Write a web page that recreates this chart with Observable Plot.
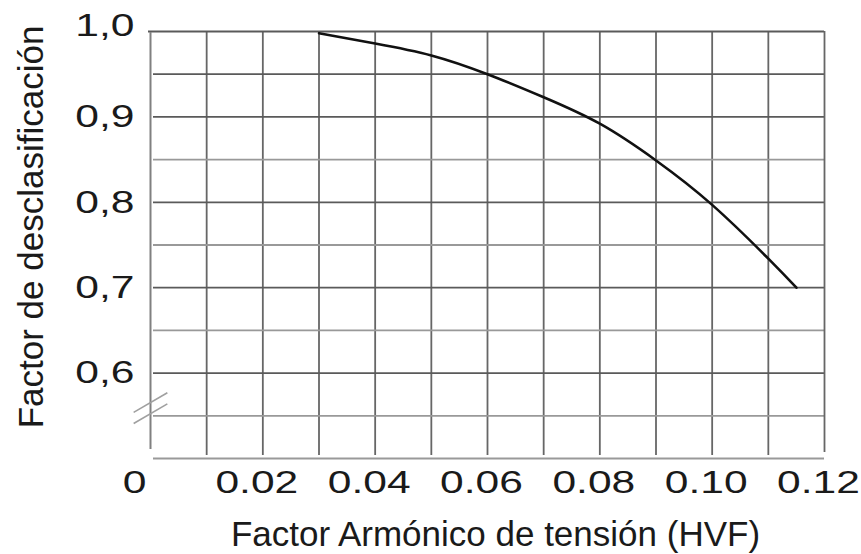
<!DOCTYPE html>
<html><head><meta charset="utf-8">
<script src="https://cdn.jsdelivr.net/npm/d3@7"></script>
<script src="https://cdn.jsdelivr.net/npm/@observablehq/plot@0.6"></script>
<style>body{margin:0;background:#fff} svg{display:block}</style>
</head><body><div id="chart"></div>
<script>
// Curve: derating factor vs harmonic voltage factor (HVF)
const hvf    = [0.03, 0.04, 0.05, 0.06, 0.07, 0.08, 0.09, 0.10, 0.11, 0.115];
const factor = [0.998, 0.986, 0.972, 0.950, 0.923, 0.892, 0.849, 0.797, 0.734, 0.700];

const xTicks = [0, 0.02, 0.04, 0.06, 0.08, 0.10, 0.12];
const xTickLabels = ["0", "0.02", "0.04", "0.06", "0.08", "0.10", "0.12"];
const yTicks = [0.6, 0.7, 0.8, 0.9, 1.0];
const yTickLabels = ["0,6", "0,7", "0,8", "0,9", "1,0"];

const xGrid = [0.01, 0.02, 0.03, 0.04, 0.05, 0.06, 0.07, 0.08, 0.09, 0.10, 0.11];
const yGridDark = [0.6, 0.7, 0.8, 0.9, 0.95];
const yGridLight = [0.5, 0.55, 0.65, 0.75, 0.85];

// axis-break slashes (x1, y1, x2, y2)
const breakX1 = [-0.003, -0.003];
const breakY1 = [0.554, 0.541];
const breakX2 = [0.003, 0.003];
const breakY2 = [0.577, 0.564];

const xTitle = "Factor Armónico de tensión (HVF)";
const yTitle = "Factor de desclasificación";

const points = hvf.map((x, i) => ({x, y: factor[i]}));
const breaks = breakX1.map((_, i) => ({x1: breakX1[i], y1: breakY1[i], x2: breakX2[i], y2: breakY2[i]}));

const xLab = d => xTickLabels[xTicks.indexOf(d)];
const yLab = d => yTickLabels[yTicks.indexOf(d)];
const tickFont = 32;

const svg = Plot.plot({
  width: 861, height: 554,
  marginLeft: 150, marginRight: 37, marginTop: 31, marginBottom: 96,
  x: {domain: [0, 0.12]},
  y: {domain: [0.5, 1.0]},
  style: {fontFamily: "'Liberation Sans', Arial, sans-serif", color: "#1a1a1a", background: "#fff"},
  marks: [
    Plot.ruleX(xGrid, {y1: 0.5, y2: 1.0, stroke: "#666", strokeWidth: 1.8, insetTop: -3}),
    Plot.ruleY(yGridLight, {x1: 0, x2: 0.12, stroke: "#999", strokeWidth: 1.8, insetLeft: 3}),
    Plot.ruleY(yGridDark, {x1: 0, x2: 0.12, stroke: "#5a5a5a", strokeWidth: 1.8, insetLeft: 3}),
    Plot.ruleY([1.0], {x1: 0, x2: 0.12, stroke: "#5a5a5a", strokeWidth: 1.8, insetLeft: -2}),
    Plot.ruleX([0.12], {y1: 0.5, y2: 1.0, stroke: "#666", strokeWidth: 1.8, insetTop: -6}),
    Plot.ruleX([0], {y1: 0.5, y2: 1.0, stroke: "#808080", strokeWidth: 2, insetTop: -9, insetBottom: -1}),
    Plot.link(breaks, {x1: "x1", y1: "y1", x2: "x2", y2: "y2", stroke: "#a0a0a0", strokeWidth: 1.6}),
    Plot.line(points, {x: "x", y: "y", curve: "natural", stroke: "#111", strokeWidth: 2.6}),
    Plot.axisX([0], {tickFormat: xLab, tickSize: 0, tickPadding: 12, fontSize: tickFont, dx: -16, label: null}),
    Plot.axisX(xTicks.slice(1), {tickFormat: xLab, tickSize: 0, tickPadding: 12, fontSize: tickFont, dx: -6, label: null}),
    Plot.axisY(yTicks.slice(0, 4), {tickFormat: yLab, tickSize: 0, tickPadding: 16, fontSize: tickFont, label: null}),
    Plot.axisY([1.0], {tickFormat: yLab, tickSize: 0, tickPadding: 16, fontSize: tickFont, dy: -6, label: null}),
    Plot.text([xTitle], {text: d => d, frameAnchor: "bottom", lineAnchor: "top", dx: 8, dy: 63, fontSize: 35, fill: "#1a1a1a", ariaLabel: "x-title"}),
    Plot.text([yTitle], {text: d => d, frameAnchor: "left", textAnchor: "middle", rotate: -90, dx: -119, dy: -18, fontSize: 35, fill: "#1a1a1a", ariaLabel: "y-title"})
  ]
});
document.getElementById("chart").appendChild(svg);

function stretch(sel, k) {
  for (const t of svg.querySelectorAll(sel)) {
    const w = t.getComputedTextLength();
    t.setAttribute("textLength", (w * k).toFixed(1));
    t.setAttribute("lengthAdjust", "spacingAndGlyphs");
  }
}
stretch('g[aria-label="x-axis tick label"] text, g[aria-label="y-axis tick label"] text', 1.33);
stretch('g[aria-label="x-title"] text', 1.04);
</script>
</body></html>
